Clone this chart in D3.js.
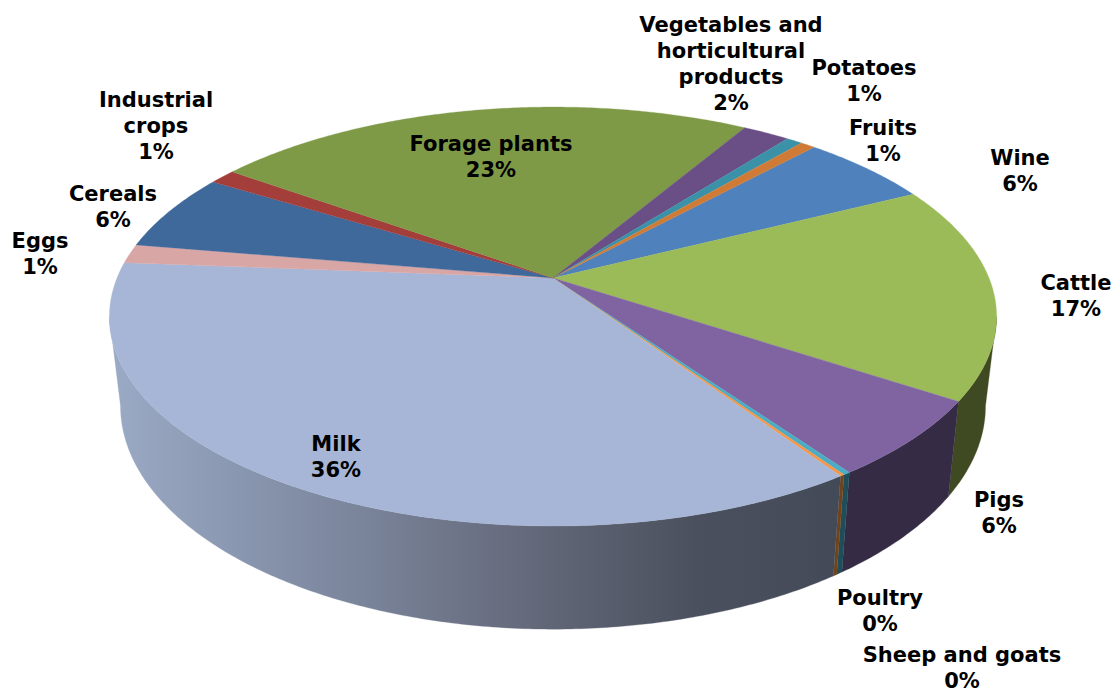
<!DOCTYPE html>
<html><head><meta charset="utf-8">
<script src="https://cdnjs.cloudflare.com/ajax/libs/d3/7.8.5/d3.min.js"></script>
<style>html,body{margin:0;padding:0;background:#fff}svg{display:block}text{font-family:"DejaVu Sans",Verdana,sans-serif;font-weight:700;font-size:21px;fill:#000}</style>
</head><body><svg id="c" width="1114" height="693"></svg>
<script>
const categories = ["Wine","Cattle","Pigs","Poultry","Sheep and goats","Milk","Eggs","Cereals","Industrial crops","Forage plants","Vegetables and horticultural products","Potatoes","Fruits"];
const shares = [5.72,16.62,5.96,0.22,0.14,35.65,1.47,6.01,1.15,23.64,2.04,0.70,0.64];
const percentLabels = ["6%","17%","6%","0%","0%","36%","1%","6%","1%","23%","2%","1%","1%"];
const labelLines = [["Wine"],["Cattle"],["Pigs"],["Poultry"],["Sheep and goats"],["Milk"],["Eggs"],["Cereals"],["Industrial","crops"],["Forage plants"],["Vegetables and","horticultural","products"],["Potatoes"],["Fruits"]];
const topColors = ["#4F81BD","#9BBB59","#8064A2","#4BACC6","#F79646","#A7B6D6","#D9A6A6","#3F699B","#A33E3B","#7F9A47","#694F86","#3B91A8","#D07B35"];
const sideColors = ["#2A4566","#3F4A22","#352B45","#1F4E5A","#71431A","url(#milkSide)","#7a5c5c","#22395a","#5a2220","#445226","#3a2b4a","#20505c","#72441d"];
// label layout: centre x and centre y of the first line
const labelCentres = [[1020,157],[1076,282],[999,499],[880,597],[962,654],[336,443],[40,240],[113,193],[156,99],[491,143],[731,24],[864,67],[883,127]];

const svg = d3.select("#c");
const cx=553, cy=278, a=436, b=202.4, k=0.184;
const sx=0.975, sy=1.065, drop=87, lineH=26;

const defs = svg.append("defs");
const g = defs.append("linearGradient").attr("id","milkSide").attr("gradientUnits","userSpaceOnUse")
  .attr("x1",115).attr("x2",845).attr("y1",0).attr("y2",0);
[[0,"#9AA9C4"],[0.25,"#828EA6"],[0.55,"#666B7D"],[0.8,"#4B505E"],[1,"#434A57"]].forEach(s=>g.append("stop").attr("offset",s[0]).attr("stop-color",s[1]));

function rim(t){ const X=Math.sin(t), Y=-Math.cos(t), d=1-k*Y; return [cx+a*X/d, cy+b*Y/d]; }
function lower(p){ return [cx+sx*(p[0]-cx), cy+drop+sy*(p[1]-cy)]; }
function arcPts(s,e){ const n=Math.max(2,Math.ceil((e-s)/0.01)); return d3.range(n+1).map(i=>rim(s+(e-s)*i/n)); }

const arcs = d3.pie().sort(null).startAngle(42.8*Math.PI/180).endAngle((42.8+360)*Math.PI/180)(shares);
const line = d3.line();
// the wall is visible between the two points where the rim is tangent to the vertical
const vis0 = Math.acos(-k), vis1 = 2*Math.PI-Math.acos(-k);

svg.append("g").selectAll("path").data(arcs.filter(d=>d.startAngle<vis1&&d.endAngle>vis0)).join("path")
  .attr("d",d=>{ const t=arcPts(Math.max(d.startAngle,vis0),Math.min(d.endAngle,vis1)); return line(t.concat(t.map(lower).reverse()))+"Z"; })
  .attr("fill",d=>sideColors[d.index]).attr("stroke",d=>sideColors[d.index]).attr("stroke-width",0.3);

svg.append("g").selectAll("path").data(arcs).join("path")
  .attr("d",d=>line([[cx,cy]].concat(arcPts(d.startAngle,d.endAngle)))+"Z")
  .attr("fill",d=>topColors[d.index]).attr("stroke",d=>topColors[d.index]).attr("stroke-width",0.3);

const labels = svg.append("g").selectAll("text").data(categories).join("text")
  .attr("text-anchor","middle").attr("aria-label",d=>d);
labels.each(function(d,i){
  const lines=labelLines[i].concat([percentLabels[i]]);
  d3.select(this).selectAll("tspan").data(lines).join("tspan")
    .attr("x",labelCentres[i][0]).attr("y",(l,j)=>labelCentres[i][1]+8+j*lineH).text(l=>l);
});
</script></body></html>
